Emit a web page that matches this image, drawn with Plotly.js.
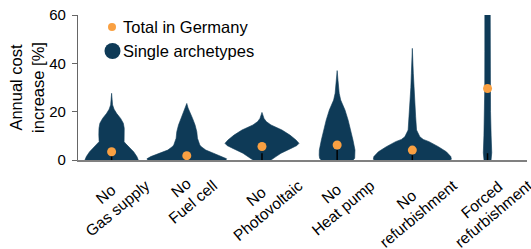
<!DOCTYPE html>
<html><head><meta charset="utf-8">
<script src="https://cdn.plot.ly/plotly-3.0.1.min.js"></script>
<style>html,body{margin:0;padding:0;background:#fff;} #wrap{position:relative;width:531px;height:249px;} #chart{width:531px;height:249px;} #labels{position:absolute;left:0;top:0;pointer-events:none;}</style>
</head><body><div id="wrap"><div id="chart"></div><svg id="labels" width="531" height="249" xmlns="http://www.w3.org/2000/svg"></svg></div>
<script>
// Categories (x tick labels), one entry per line
const categories = [["No", "Gas supply"], ["No", "Fuel cell"], ["No", "Photovoltaic"], ["No", "Heat pump"], ["No", "refurbishment"], ["Forced", "refurbishment"]];
// Orange dots: total in Germany [%]
const totalGermany = [3.4, 1.8, 5.6, 6.2, 4.1, 29.6];
// Inner black lines (lower whisker) from / to [%]
const whiskerLow = [0, 0, 0, 0, 0, 0];
const whiskerHigh = [2.8, 2.7, 2.8, 4.1, 2.0, 2.8];
// y-axis
const yTicks = [0, 20, 40, 60];
const yTitle = "Annual cost<br>increase [%]";
const legendNames = ["Total in Germany", "Single archetypes"];

// Violin density profiles: y levels [%] and half widths (category units)
const gasLevels = [0, 1.4, 3.4, 5.5, 7.0, 7.6, 10.3, 13.1, 15.2, 17.2, 19.3, 21.0, 22.8, 25.0, 27.6];
const gasWidths = [0.355, 0.336, 0.293, 0.233, 0.180, 0.166, 0.170, 0.168, 0.156, 0.120, 0.066, 0.033, 0.013, 0.007, 0];
const fuelLevels = [0, 0.5, 1.4, 2.8, 4.1, 5.5, 6.2, 9.0, 11.7, 14.5, 17.2, 20.0, 21.5, 23.4];
const fuelWidths = [0.52, 0.53, 0.479, 0.355, 0.253, 0.193, 0.173, 0.142, 0.133, 0.110, 0.077, 0.040, 0.017, 0];
const pvLevels = [0, 1.4, 2.8, 4.8, 6.0, 6.9, 8.3, 10.3, 12.4, 14.5, 15.9, 17.2, 19.7];
const pvWidths = [0.120, 0.186, 0.253, 0.386, 0.465, 0.492, 0.452, 0.372, 0.266, 0.120, 0.057, 0.027, 0];
const hpLevels = [0, 0.7, 2.0, 4.1, 8.3, 12.4, 16.5, 20.7, 24.8, 27.6, 30.3, 33.0, 37.0];
const hpWidths = [0.213, 0.233, 0.239, 0.237, 0.210, 0.182, 0.146, 0.104, 0.047, 0.027, 0.020, 0.011, 0];
const refLevels = [0, 0.3, 1.4, 3.4, 5.5, 7.6, 8.5, 9.6, 12.4, 17.9, 24.8, 30.0, 35.9, 46.2];
const refWidths = [0.505, 0.519, 0.512, 0.452, 0.346, 0.222, 0.146, 0.100, 0.056, 0.044, 0.027, 0.020, 0.013, 0];
const forcedLevels = [0, 3, 10, 20, 30, 45, 62];
const forcedWidths = [0.047, 0.056, 0.048, 0.040, 0.037, 0.036, 0.036];

const profiles = [
  [gasLevels, gasWidths], [fuelLevels, fuelWidths], [pvLevels, pvWidths],
  [hpLevels, hpWidths], [refLevels, refWidths], [forcedLevels, forcedWidths]
];

const NAVY = '#0e3a57';
const ORANGE = '#f9a042';
const FONT = 'Liberation Sans, Arial, sans-serif';
const traces = [];

profiles.forEach(([lv, wd], i) => {
  const xs = [], ys = [];
  for (let k = 0; k < lv.length; k++) { xs.push(i - wd[k]); ys.push(lv[k]); }
  for (let k = lv.length - 1; k >= 0; k--) { xs.push(i + wd[k]); ys.push(lv[k]); }
  traces.push({
    type: 'scatter', mode: 'lines', x: xs, y: ys, fill: 'toself',
    fillcolor: NAVY, line: {color: NAVY, width: 0.6},
    showlegend: false, hoverinfo: 'skip', name: legendNames[1]
  });
});

// whisker lines
const wx = [], wy = [];
whiskerHigh.forEach((h, i) => { wx.push(i, i, null); wy.push(whiskerLow[i], h, null); });
traces.push({type: 'scatter', mode: 'lines', x: wx, y: wy, line: {color: '#000', width: 1.5}, showlegend: false, hoverinfo: 'skip'});

// Total in Germany dots
traces.push({
  type: 'scatter', mode: 'markers', x: categories.map((c, i) => i), y: totalGermany,
  marker: {color: ORANGE, size: 9}, showlegend: false, name: legendNames[0]
});

const x0px = 78, x1px = 527, y0px = 160, y1px = 15;
const xRange = [-0.447, 5.525];
const px2paperX = p => (p - x0px) / (x1px - x0px);
const px2paperY = p => (y0px - p) / (y0px - y1px);
const cat2px = i => x0px + (i - xRange[0]) / (xRange[1] - xRange[0]) * (x1px - x0px);

const annotations = [
  {text: legendNames[0], x: px2paperX(121), xref: 'paper', y: px2paperY(27), yref: 'paper',
   xanchor: 'left', yanchor: 'middle', showarrow: false},
  {text: legendNames[1], x: px2paperX(121), xref: 'paper', y: px2paperY(51), yref: 'paper',
   xanchor: 'left', yanchor: 'middle', showarrow: false}
];

const shapes = [
  {type: 'circle', xref: 'paper', yref: 'paper', xsizemode: 'pixel', ysizemode: 'pixel',
   xanchor: px2paperX(112), yanchor: px2paperY(27), x0: -4, x1: 4, y0: -4, y1: 4,
   fillcolor: ORANGE, line: {width: 0}},
  {type: 'circle', xref: 'paper', yref: 'paper', xsizemode: 'pixel', ysizemode: 'pixel',
   xanchor: px2paperX(112.5), yanchor: px2paperY(51), x0: -8, x1: 8, y0: -8, y1: 8,
   fillcolor: NAVY, line: {width: 0}}
];

const layout = {
  width: 531, height: 249,
  margin: {l: x0px, r: 531 - x1px, t: y1px, b: 249 - y0px, pad: 0},
  paper_bgcolor: '#fff', plot_bgcolor: '#fff',
  font: {family: FONT, size: 16.5, color: '#000'},
  showlegend: false,
  xaxis: {range: xRange, showgrid: false, zeroline: false, showticklabels: false,
    ticks: '', showline: true, linecolor: '#808080', linewidth: 2, fixedrange: true},
  yaxis: {range: [0, 60], tickvals: yTicks, ticks: 'outside', ticklen: 5, tickwidth: 1.3,
    tickcolor: '#666', showline: true, linecolor: '#666', linewidth: 1.3, showgrid: false, zeroline: false,
    tickfont: {size: 15, color: '#000'}, ticklabelstandoff: 3,
    title: {text: yTitle, font: {size: 16.5, color: '#000'}, standoff: 0}},
  annotations: annotations,
  shapes: shapes
};

Plotly.newPlot('chart', traces, layout, {displayModeBar: false});

// Rotated two-line category labels (SVG text, -40 degrees, lines centred), placed on the x scale
const LFS = 15.5, ANG = 40 * Math.PI / 180, SP = 18.4;
const SIN = Math.sin(ANG), COS = Math.cos(ANG);
const svg = document.getElementById('labels');
const NS = 'http://www.w3.org/2000/svg';
const cv = document.createElement('canvas').getContext('2d');
cv.font = LFS + 'px "Liberation Sans"';
categories.forEach((lines, i) => {
  const L = Math.max(...lines.map(s => cv.measureText(s).width));
  const n = lines.length;
  const cx = cat2px(i);
  const cy = 179 + L / 2 * SIN + 0.72 * LFS / 2 * COS - (n - 1) * SP / 2 * COS;
  lines.forEach((txt, k) => {
    const off = (k - (n - 1) / 2) * SP;
    const lx = cx + off * SIN, ly = cy + off * COS;
    const t = document.createElementNS(NS, 'text');
    t.setAttribute('x', lx.toFixed(2));
    t.setAttribute('y', ly.toFixed(2));
    t.setAttribute('text-anchor', 'middle');
    t.setAttribute('dominant-baseline', 'central');
    t.setAttribute('transform', 'rotate(-40 ' + lx.toFixed(2) + ' ' + ly.toFixed(2) + ')');
    t.setAttribute('font-family', FONT);
    t.setAttribute('font-size', LFS);
    t.setAttribute('fill', '#000');
    t.textContent = txt;
    svg.appendChild(t);
  });
});
</script>
</body></html>
